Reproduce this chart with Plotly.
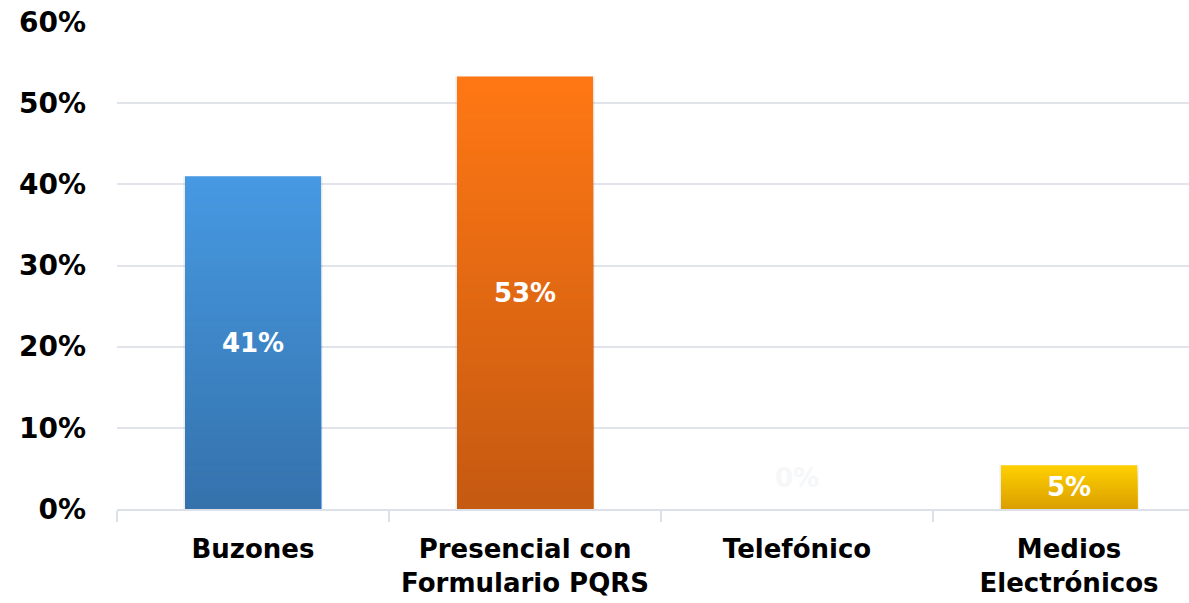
import plotly.graph_objects as go

# Channels and share of requests received per channel
categories = ["Buzones", "Presencial con<br>Formulario PQRS", "Telefónico", "Medios<br>Electrónicos"]
shares = [0.41, 0.533, 0.0, 0.054]

# Gradient endpoints (top colour, bottom colour) for each bar
top_colors = ["#4699E2", "#FF7714", "#A0A0A0", "#FFD000"]
bottom_colors = ["#3572AC", "#C55A11", "#808080", "#DB9F00"]

tick_vals = [0, 0.1, 0.2, 0.3, 0.4, 0.5, 0.6]

FONT = "DejaVu Sans"
BAR_WIDTH = 0.5
STEPS = 60


def hex_to_rgb(h):
    h = h.lstrip("#")
    return tuple(int(h[i:i + 2], 16) for i in (0, 2, 4))


def mix(c1, c2, t):
    a, b = hex_to_rgb(c1), hex_to_rgb(c2)
    return "rgb({},{},{})".format(*[round(a[i] + (b[i] - a[i]) * t) for i in range(3)])


fig = go.Figure()

# soft shadow around each bar
fig.add_trace(go.Bar(
    x=categories, y=shares, width=BAR_WIDTH + 0.012,
    marker=dict(color="rgba(0,0,0,0.07)", line=dict(width=0)),
    hoverinfo="skip", showlegend=False,
))

# vertical gradient: nested bars from full height down, each a shade darker
for k in range(STEPS):
    frac = (STEPS - k) / STEPS
    t = k / (STEPS - 1)
    fig.add_trace(go.Bar(
        x=categories,
        y=[v * frac for v in shares],
        width=BAR_WIDTH,
        marker=dict(color=[mix(top_colors[i], bottom_colors[i], t) for i in range(len(shares))],
                    line=dict(width=0)),
        hoverinfo="skip", showlegend=False,
    ))

# value bars carrying the labels
fig.add_trace(go.Bar(
    x=categories, y=shares, width=BAR_WIDTH,
    marker=dict(color="rgba(0,0,0,0)", line=dict(width=0)),
    texttemplate="%{y:.0%}", textposition="inside", insidetextanchor="middle",
    textfont=dict(family=FONT, size=26, color="white", weight=700),
    showlegend=False,
))

# labels of empty bars sit just above the baseline
for cat, v in zip(categories, shares):
    if v == 0:
        fig.add_annotation(x=cat, y=v, text=f"{v:.0%}", showarrow=False, yshift=31,
                           font=dict(family=FONT, size=26, color="#F6F7F9", weight=700))

fig.update_layout(
    width=1189, height=603,
    margin=dict(l=117, r=0, t=22, b=94),
    paper_bgcolor="white", plot_bgcolor="white",
    barmode="overlay", bargap=0.5,
    showlegend=False,
    xaxis=dict(
        type="category", range=[-0.5, 3.441],
        showline=True, linecolor="#DCE0E8", linewidth=2,
        tickson="boundaries", ticks="outside", ticklen=11, tickcolor="#DCE0E8", tickwidth=2,
        tickfont=dict(family=FONT, size=26, color="black", weight=700),
        ticklabelstandoff=16,
        showgrid=False, zeroline=False, fixedrange=True,
    ),
    yaxis=dict(
        range=[0, 0.6], tickvals=tick_vals, tickformat=".0%",
        showgrid=True, gridcolor="#E1E4EA", gridwidth=2,
        showline=False, zeroline=False, ticks="",
        tickfont=dict(family=FONT, size=28, color="black", weight=700),
        ticklabelstandoff=30, fixedrange=True,
    ),
)

fig.write_html("out.html")
